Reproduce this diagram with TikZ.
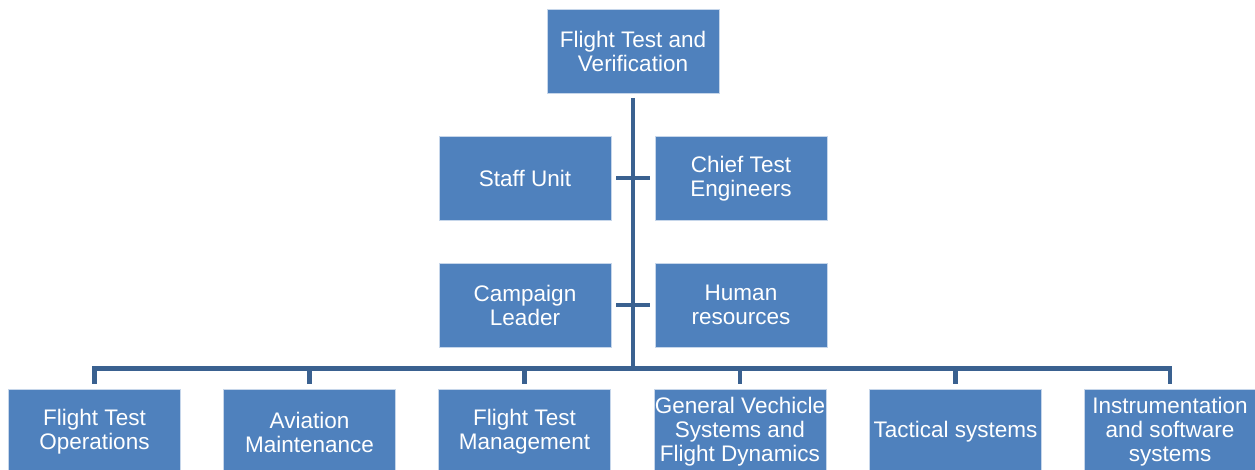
\documentclass[tikz,border=0pt]{standalone}
\usepackage{fontspec}
\setmainfont{Liberation Sans}
\definecolor{boxblue}{HTML}{4F81BD}
\definecolor{boxedge}{HTML}{C6D6EA}
\definecolor{linkblue}{HTML}{3A6190}
\tikzset{
  unit/.style={rectangle,fill=boxblue,draw=boxedge,line width=0.8pt,text=white,
    align=center,inner sep=0pt,minimum width=172pt,
    font=\fontsize{22.5}{24}\selectfont},
  link/.style={draw=linkblue,line width=4.5pt},
}
\begin{document}
\begin{tikzpicture}[x=1pt,y=-1pt]
        \useasboundingbox (0,0) rectangle (1255,470);
        \clip (0,0) rectangle (1255,470);

        \begin{scope}[every node/.style={unit,minimum height=84pt}]
          \node (top)      at (633,51.5)  {Flight Test and\\Verification};
          \node (staff)    at (525,178.5) {Staff Unit};
          \node (chief)    at (741,178.5) {Chief Test\\Engineers};
          \node (campaign) at (525,305)   {Campaign\\Leader};
          \node (human)    at (741,305)   {Human\\resources};
        \end{scope}

        \begin{scope}[every node/.style={unit,minimum height=86pt}]
          \node (ops)   at (94.5,432)  {Flight Test\\Operations};
          \node (maint) at (309.5,432) {Aviation\\Maintenance};
          \node (mgmt)  at (524.5,432) {Flight Test\\Management};
          \node (gvs)   at (740,432)   {General Vechicle\\Systems and\\Flight Dynamics};
          \node (tact)  at (955.5,432) {Tactical systems};
          \node (instr) at (1170,432)  {Instrumentation\\and software\\systems};
        \end{scope}

        \coordinate (hub) at (top.south |- 0,368.5);

        \begin{scope}[every path/.style={link}]
          \path (top.south) ++(0,4) -- (hub);
          \path (staff) edge[shorten <=5pt,shorten >=5pt,line width=4pt] (chief);
          \path (campaign) edge[shorten <=5pt,shorten >=5pt,line width=4pt] (human);
          \path ([xshift=-2.25pt]ops.north |- hub) -- ([xshift=2.25pt]instr.north |- hub);
          \foreach \n in {ops,maint,mgmt,gvs,tact,instr}
            \path (\n.north |- hub) -- ([yshift=5pt]\n.north);
        \end{scope}

      \end{tikzpicture}
\end{document}
